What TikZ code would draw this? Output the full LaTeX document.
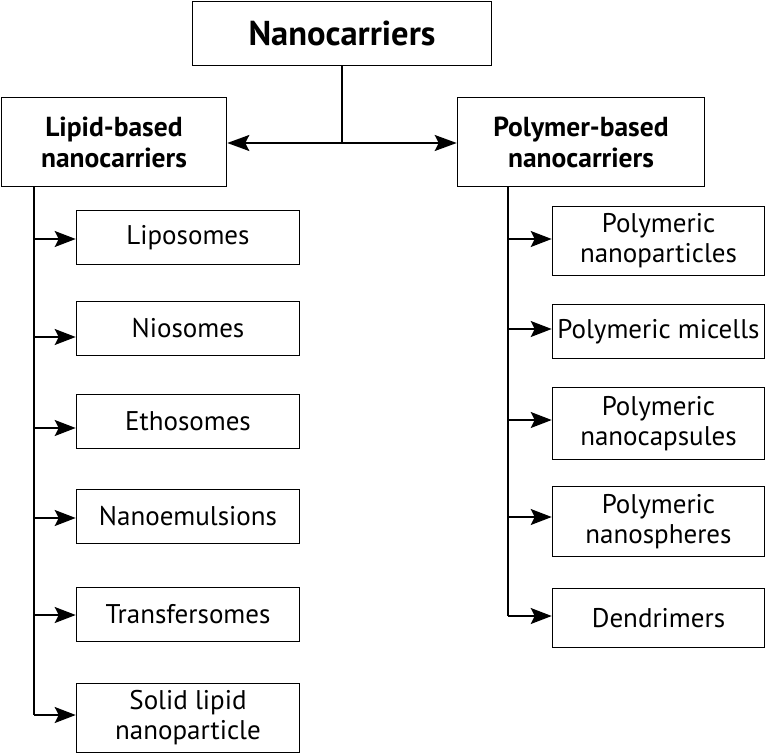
\documentclass[tikz,border=0pt]{standalone}
\usepackage{fontspec}
\setmainfont{PT Sans}
\usetikzlibrary{arrows.meta}
\begin{document}
\begin{tikzpicture}[x=1pt,y=-1pt,
  box/.style={draw, line width=1.6pt, inner sep=0pt, align=center, font=\fontsize{27}{30}\selectfont},
  headbox/.style={box, font=\fontsize{27.5}{31}\selectfont\bfseries},
  conn/.style={line width=1.8pt},
  arr/.style={conn, -{Stealth[length=21pt,width=16pt,inset=4pt]}},
  dblarr/.style={conn, {Stealth[length=22pt,width=16pt,inset=4pt]}-{Stealth[length=22pt,width=16pt,inset=4pt]}}]
\useasboundingbox (0,0) rectangle (767,754);
% top
\node[box, font=\fontsize{34.5}{36}\selectfont\bfseries, minimum width=299, minimum height=64] (top) at (342,33.5) {Nanocarriers};
\node[headbox, minimum width=225, minimum height=89] (lipid) at (114,142) {Lipid-based\\nanocarriers};
\node[headbox, minimum width=247, minimum height=89] (poly) at (581,142) {Polymer-based\\nanocarriers};
% left boxes
\node[box, minimum width=223, minimum height=54] (lipo) at (188,237.5) {Liposomes};
\node[box, minimum width=223, minimum height=54] (nio) at (188,328.5) {Niosomes};
\node[box, minimum width=223, minimum height=54] (etho) at (188,421.5) {Ethosomes};
\node[box, minimum width=223, minimum height=54] (emul) at (188,516.5) {Nanoemulsions};
\node[box, minimum width=223, minimum height=54] (trans) at (188,614.5) {Transfersomes};
\node[box, minimum width=223, minimum height=69] (sln) at (188,718) {Solid lipid\\nanoparticle};
% right boxes
\node[box, minimum width=212, minimum height=69] (pnp) at (658.5,241) {Polymeric\\nanoparticles};
\node[box, minimum width=212, minimum height=54] (pmic) at (658.5,331.5) {Polymeric micells};
\node[box, minimum width=212, minimum height=72] (pcap) at (658.5,423.5) {Polymeric\\nanocapsules};
\node[box, minimum width=212, minimum height=70] (psph) at (658.5,521.5) {Polymeric\\nanospheres};
\node[box, minimum width=212, minimum height=59] (dend) at (658.5,618) {Dendrimers};
% top connectors
\coordinate (hub) at (342,143);
\draw[conn] (top.south) -- (hub);
\draw[dblarr] (hub -| lipid.east) -- (hub -| poly.west);
% left trunk
\coordinate (l1) at (34,239);
\coordinate (l2) at (34,337);
\coordinate (l3) at (34,428);
\coordinate (l4) at (34,518);
\coordinate (l5) at (34,615);
\coordinate (l6) at (34,715);
\draw[conn] (lipid.south -| l1) -- (l6);
\draw[arr] (l1) -- (l1 -| lipo.west);
\draw[arr] (l2) -- (l2 -| nio.west);
\draw[arr] (l3) -- (l3 -| etho.west);
\draw[arr] (l4) -- (l4 -| emul.west);
\draw[arr] (l5) -- (l5 -| trans.west);
\draw[arr] (l6) -- (l6 -| sln.west);
% right trunk
\coordinate (r1) at (508,239);
\coordinate (r2) at (508,329);
\coordinate (r3) at (508,420);
\coordinate (r4) at (508,517);
\coordinate (r5) at (508,616);
\draw[conn] (poly.south -| r1) -- (r5);
\draw[arr] (r1) -- (r1 -| pnp.west);
\draw[arr] (r2) -- (r2 -| pmic.west);
\draw[arr] (r3) -- (r3 -| pcap.west);
\draw[arr] (r4) -- (r4 -| psph.west);
\draw[arr] (r5) -- (r5 -| dend.west);
\end{tikzpicture}
\end{document}
